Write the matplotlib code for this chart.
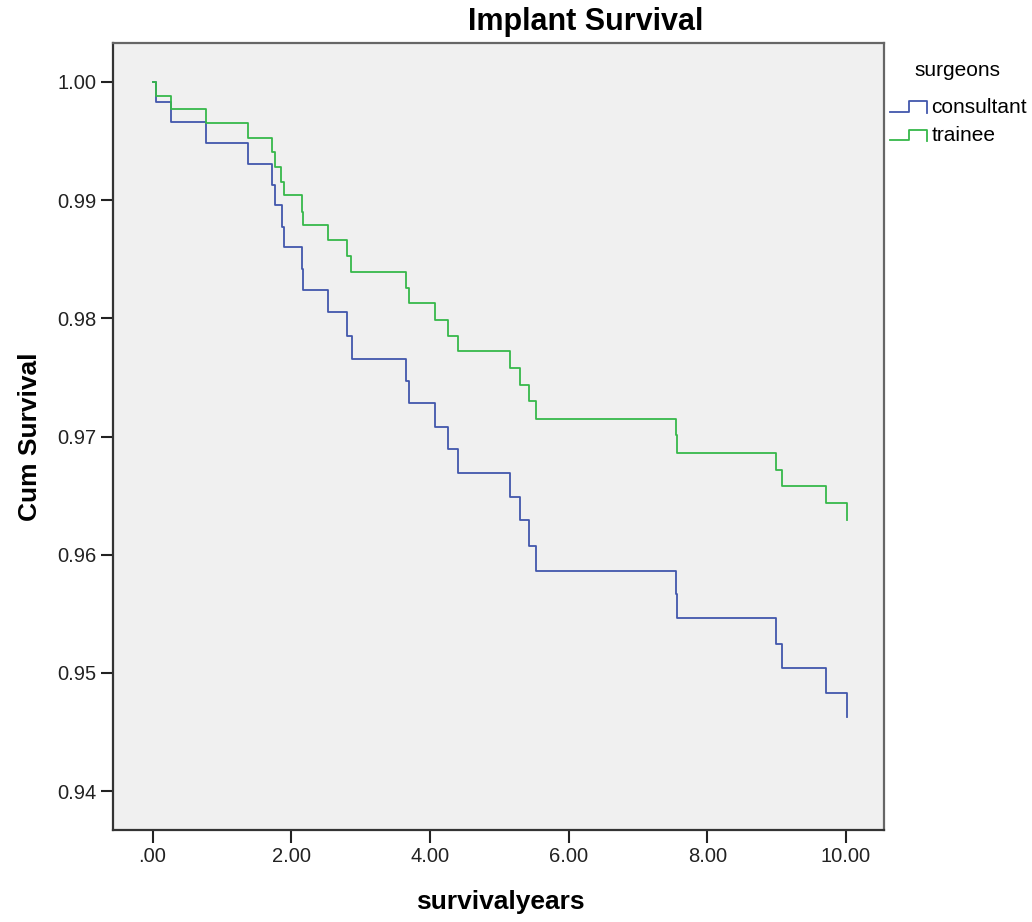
import numpy as np
import matplotlib
matplotlib.use("Agg")
import matplotlib.pyplot as plt
from matplotlib.lines import Line2D
from matplotlib.legend_handler import HandlerBase

plt.rcParams['font.family'] = ['Liberation Sans', 'DejaVu Sans']

# Kaplan-Meier steps (event time in years, survival after the drop)
consultant_times = [0.055, 0.267, 0.776, 1.381, 1.719, 1.766, 1.872, 1.896, 2.160, 2.175,
                    2.526, 2.809, 2.872, 3.655, 3.703, 4.074, 4.265, 4.410, 5.152, 5.299,
                    5.433, 5.526, 7.544, 7.567, 8.986, 9.082, 9.707, 10.01]
consultant_surv = [0.9983, 0.9966, 0.9948, 0.9931, 0.9913, 0.9896, 0.9877, 0.9860, 0.9842, 0.9824,
                   0.9805, 0.9785, 0.9766, 0.9747, 0.9728, 0.9708, 0.9689, 0.9669, 0.9649, 0.9629,
                   0.9607, 0.9586, 0.9567, 0.9546, 0.9524, 0.9504, 0.9483, 0.9463]

trainee_times = [0.055, 0.267, 0.776, 1.381, 1.719, 1.766, 1.853, 1.896, 2.151, 2.175,
                 2.526, 2.809, 2.858, 3.655, 3.703, 4.074, 4.265, 4.410, 5.162, 5.299,
                 5.433, 5.526, 7.544, 7.567, 8.986, 9.082, 9.707, 10.01]
trainee_surv = [0.9988, 0.9977, 0.9965, 0.9953, 0.9941, 0.9928, 0.9915, 0.9904, 0.9890, 0.9879,
                0.9866, 0.9853, 0.9839, 0.9826, 0.9813, 0.9799, 0.9785, 0.9772, 0.9758, 0.9744,
                0.9730, 0.9715, 0.9701, 0.9686, 0.9672, 0.9658, 0.9644, 0.9629]

x_ticks = [0, 2, 4, 6, 8, 10]
x_labels = ['.00', '2.00', '4.00', '6.00', '8.00', '10.00']
y_ticks = [0.94, 0.95, 0.96, 0.97, 0.98, 0.99, 1.00]
y_labels = ['0.94', '0.95', '0.96', '0.97', '0.98', '0.99', '1.00']

blue = '#4257ac'
green = '#36b84a'


class StepHandler(HandlerBase):
    # small "step" glyph like the SPSS legend
    def create_artists(self, legend, orig, xd, yd, w, h, fontsize, trans):
        xs = [-xd, -xd + w * 0.5, -xd + w * 0.5, -xd + w, -xd + w]
        ys = [h * 0.1, h * 0.1, h * 0.8, h * 0.8, h * 0.0]
        ln = Line2D(xs, ys, color=orig.get_color(), lw=orig.get_linewidth(), transform=trans)
        return [ln]


fig = plt.figure(figsize=(10.32, 9.22), dpi=100)
ax = fig.add_axes([113 / 1032, 1 - 830 / 922, 771 / 1032, 787 / 922])
ax.set_facecolor('#f0f0f0')

l1, = ax.step(np.r_[0, consultant_times], np.r_[1.0, consultant_surv], where='post',
              color=blue, lw=1.3, label='consultant')
l2, = ax.step(np.r_[0, trainee_times], np.r_[1.0, trainee_surv], where='post',
              color=green, lw=1.3, label='trainee')

ax.set_xlim(-0.57, 10.55)
ax.set_ylim(0.9367, 1.0033)
ax.set_xticks(x_ticks)
ax.set_xticklabels(x_labels)
ax.set_yticks(y_ticks)
ax.set_yticklabels(y_labels)
ax.tick_params(length=9, width=1.5, color='#222222', labelsize=14.5, labelcolor='#222222', pad=3)

for side, sp in ax.spines.items():
    sp.set_linewidth(1.6)
    sp.set_color('#333333' if side in ('left', 'bottom') else '#666666')

ax.set_xlabel('survivalyears', fontsize=19, fontweight='bold')
ax.xaxis.set_label_coords(0.502, -0.076)
ax.set_ylabel('Cum Survival', fontsize=19, fontweight='bold')
ax.yaxis.set_label_coords(-0.108, 0.5)
ax.yaxis.label.set_va('center')

fig.text(586 / 1032, 1 - 22 / 922, 'Implant Survival', fontsize=22, fontweight='bold',
         ha='center', va='center')

# legend title placed on its own, SPSS leaves a wide gap above the entries
fig.text(957 / 1032, 1 - 71 / 922, 'surgeons', fontsize=15, ha='center', va='center')
leg = fig.legend(handles=[l1, l2], loc='upper left',
                 bbox_to_anchor=(890 / 1032, 1 - 98 / 922), frameon=False,
                 fontsize=15, handlelength=1.78, handletextpad=0.2,
                 labelspacing=0.45, borderaxespad=0, borderpad=0,
                 handler_map={Line2D: StepHandler()})

fig.savefig('out.png', dpi=100, facecolor='white')
